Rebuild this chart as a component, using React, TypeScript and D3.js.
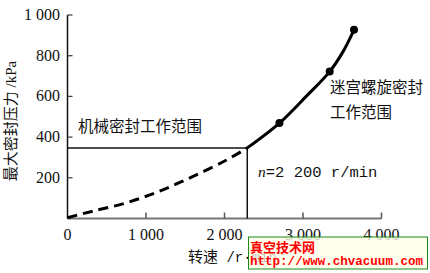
import React from "react";
import * as d3 from "d3";

const xTicks = [0, 1000, 2000, 3000, 4000];
const xTickLabels = ["0", "1 000", "2 000", "3 000", "4 000"];
const yTicks = [200, 400, 600, 800, 1000];
const yTickLabels = ["200", "400", "600", "800", "1 000"];

// mechanical seal range (dashed part)
const dashedRpm = [0, 320, 750, 1170, 1600, 2020, 2290];
const dashedKpa = [4, 36, 77, 134, 207, 286, 347];
// labyrinth spiral seal range (solid part)
const solidRpm = [2290, 2700, 3040, 3340, 3510, 3650];
const solidKpa = [347, 469, 600, 722, 820, 927];
const markerRpm = [2700, 3340, 3650];
const markerKpa = [469, 722, 927];

const nLimit = 2290;
const pLimit = 347;

const W = 430;
const H = 273;

export default function App() {
  const x = d3.scaleLinear().domain([0, 4000]).range([67.5, 381.5]);
  const y = d3.scaleLinear().domain([0, 1000]).range([218.5, 15]);

  const line = d3
    .line<[number, number]>()
    .x((d) => x(d[0]))
    .y((d) => y(d[1]))
    .curve(d3.curveCatmullRom.alpha(0.5));

  const dashedPts = dashedRpm.map((r, i) => [r, dashedKpa[i]] as [number, number]);
  const solidPts = solidRpm.map((r, i) => [r, solidKpa[i]] as [number, number]);

  const serif = "'Liberation Serif', 'DejaVu Serif', serif";
  const cjk = "'Noto Sans CJK SC', sans-serif";
  const mono = "'Liberation Mono', 'DejaVu Sans Mono', monospace";

  return (
    <svg
      width={W}
      height={H}
      style={{ position: "absolute", left: 0, top: 0, background: "#fff" }}
    >
      {/* x axis */}
      <line x1={x(0)} x2={x(4000)} y1={y(0)} y2={y(0)} stroke="#777" strokeWidth={2.2} />
      {xTicks.slice(1).map((t) => (
        <line key={t} x1={x(t)} x2={x(t)} y1={y(0)} y2={y(0) - 6} stroke="#555" strokeWidth={1.5} />
      ))}
      {xTicks.map((t, i) => (
        <text
          key={t}
          x={x(t)}
          y={240}
          textAnchor="middle"
          fontFamily={serif}
          fontSize={16}
          fill="#111"
        >
          {xTickLabels[i]}
        </text>
      ))}

      {/* y axis */}
      <line x1={x(0)} x2={x(0)} y1={y(1000)} y2={y(0)} stroke="#111" strokeWidth={1.5} />
      {yTicks.map((t, i) => (
        <g key={t}>
          <line x1={x(0)} x2={x(0) + 5} y1={y(t)} y2={y(t)} stroke="#444" strokeWidth={1.3} />
          <text
            x={60}
            y={y(t) + 5}
            textAnchor="end"
            fontFamily={serif}
            fontSize={16}
            fill="#111"
          >
            {yTickLabels[i]}
          </text>
        </g>
      ))}

      {/* axis titles */}
      <text
        transform={`translate(15.5, 121) rotate(-90)`}
        textAnchor="middle"
        fontSize={15}
        fill="#111"
      >
        <tspan fontFamily={cjk}>最大密封压力</tspan>
        <tspan fontFamily={serif}> /kPa</tspan>
      </text>
      <text x={188} y={262} fontSize={15} fill="#111">
        <tspan fontFamily={cjk}>转速</tspan>
        <tspan fontFamily={mono} fontSize={14}> /r·min</tspan>
        <tspan fontFamily={serif} fontSize={10} dy={-7}>-1</tspan>
      </text>

      {/* reference lines */}
      <line x1={x(0)} x2={x(nLimit)} y1={y(pLimit)} y2={y(pLimit)} stroke="#111" strokeWidth={1.5} />
      <line x1={x(nLimit)} x2={x(nLimit)} y1={y(pLimit)} y2={y(0)} stroke="#111" strokeWidth={1.5} />

      {/* curve */}
      <path d={line(dashedPts) || ""} fill="none" stroke="#000" strokeWidth={3} strokeDasharray="10,6" />
      <path d={line(solidPts) || ""} fill="none" stroke="#000" strokeWidth={3} />
      {markerRpm.map((r, i) => (
        <circle key={r} cx={x(r)} cy={y(markerKpa[i])} r={4} fill="#000" />
      ))}

      {/* annotations */}
      <text x={78} y={132} fontFamily={cjk} fontSize={15.5} fill="#111">
        机械密封工作范围
      </text>
      <text x={330} y={93} fontFamily={cjk} fontSize={15.5} fill="#111">
        迷宫螺旋密封
      </text>
      <text x={330} y={118} fontFamily={cjk} fontSize={15.5} fill="#111">
        工作范围
      </text>
      <text x={258} y={177} fontFamily={mono} fontSize={15.5} fill="#111">
        <tspan fontFamily={serif} fontStyle="italic">n</tspan>
        <tspan>=2 200 r/min</tspan>
      </text>

      {/* watermark */}
      <rect x={248.5} y={237} width={179} height={32} fill="#ffffe8" fillOpacity={0.75} stroke="#1a8a1a" strokeWidth={1} />
      <text x={250} y={252} fontFamily={cjk} fontWeight="bold" fontSize={13} fill="#ff0000">
        真空技术网
      </text>
      <text
        x={250}
        y={265}
        fontFamily={mono}
        fontWeight="bold"
        fontSize={13}
        fill="#ff0000"
        textLength={173}
        lengthAdjust="spacingAndGlyphs"
      >
        http://www.chvacuum.com
      </text>
    </svg>
  );
}
